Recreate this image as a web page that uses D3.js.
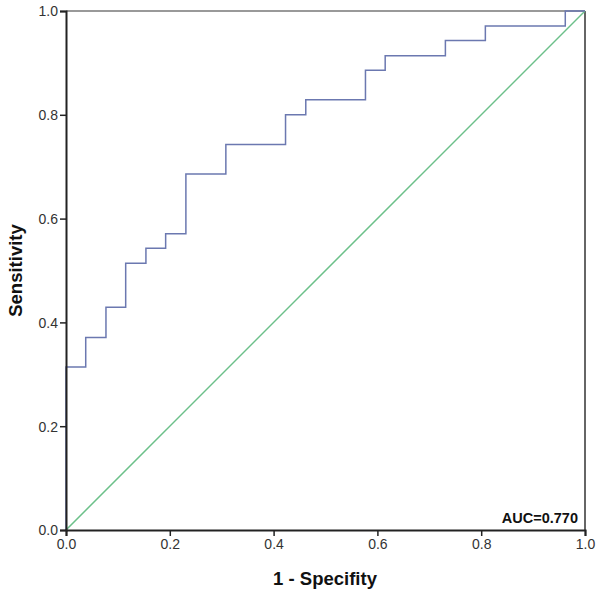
<!DOCTYPE html>
<html>
<head>
<meta charset="utf-8">
<script src="https://cdn.jsdelivr.net/npm/d3@7"></script>
<style>
html,body{margin:0;padding:0;background:#fff;}
svg{display:block;font-family:"Liberation Sans",Arial,sans-serif;}
</style>
</head>
<body>
<script>
// ROC step points (1 - specificity, sensitivity)
const fpr = [0, 0, 0.038, 0.038, 0.077, 0.077, 0.115, 0.115, 0.154, 0.154, 0.192, 0.192, 0.231, 0.231, 0.308, 0.308, 0.423, 0.423, 0.462, 0.462, 0.577, 0.577, 0.615, 0.615, 0.731, 0.731, 0.808, 0.808, 0.962, 0.962, 1.0];
const tpr = [0, 0.314, 0.314, 0.371, 0.371, 0.429, 0.429, 0.514, 0.514, 0.543, 0.543, 0.571, 0.571, 0.686, 0.686, 0.743, 0.743, 0.800, 0.800, 0.829, 0.829, 0.886, 0.886, 0.914, 0.914, 0.943, 0.943, 0.971, 0.971, 1.0, 1.0];
const refX = [0, 1];
const refY = [0, 1];
const tickValues = [0, 0.2, 0.4, 0.6, 0.8, 1.0];
const xTitle = "1 - Specifity";
const yTitle = "Sensitivity";
const aucLabel = "AUC=0.770";

const W = 600, H = 593;
const L = 66, R = 585, T = 11, B = 530;

const svg = d3.select("body").append("svg").attr("width", W).attr("height", H);

const x = d3.scaleLinear().domain([0, 1]).range([L, R]);
const y = d3.scaleLinear().domain([0, 1]).range([B, T]);

// frame top and right
svg.append("line").attr("x1", L).attr("x2", R).attr("y1", T).attr("y2", T)
  .attr("stroke", "#777").attr("stroke-width", 1.5);
svg.append("line").attr("x1", R).attr("x2", R).attr("y1", T).attr("y2", B)
  .attr("stroke", "#333").attr("stroke-width", 1.5);

// reference diagonal
svg.append("path")
  .datum(refX.map((v, i) => [v, refY[i]]))
  .attr("d", d3.line().x(d => x(d[0])).y(d => y(d[1])))
  .attr("fill", "none").attr("stroke", "#6cc08a").attr("stroke-width", 1.5);

// ROC curve
svg.append("path")
  .datum(fpr.map((v, i) => [v, tpr[i]]))
  .attr("d", d3.line().x(d => x(d[0])).y(d => y(d[1])))
  .attr("fill", "none").attr("stroke", "#6b78b0").attr("stroke-width", 1.5);

// axes
const fmt = d3.format(".1f");
const xAxis = svg.append("g").attr("transform", `translate(0,${B})`)
  .call(d3.axisBottom(x).tickValues(tickValues).tickFormat(fmt).tickSize(6).tickPadding(3));
const yAxis = svg.append("g").attr("transform", `translate(${L},0)`)
  .call(d3.axisLeft(y).tickValues(tickValues).tickFormat(fmt).tickSize(6).tickPadding(2));
[xAxis, yAxis].forEach(g => {
  g.select(".domain").attr("stroke", "#222").attr("stroke-width", 2);
  g.selectAll(".tick line").attr("stroke", "#222").attr("stroke-width", 1.5);
  g.selectAll(".tick text").attr("fill", "#333").style("font-size", "14px")
    .style("font-family", "'Liberation Sans',Arial,sans-serif");
});
yAxis.selectAll(".tick text").attr("dy", "0.35em");

// titles
svg.append("text").attr("x", 325).attr("y", 585)
  .attr("text-anchor", "middle").style("font-size", "18.5px").style("font-weight", "bold")
  .attr("fill", "#111").text(xTitle);
svg.append("text").attr("transform", `translate(22,${(T + B) / 2}) rotate(-90)`)
  .attr("text-anchor", "middle").style("font-size", "18.5px").style("font-weight", "bold")
  .attr("fill", "#111").text(yTitle);

// AUC label
svg.append("text").attr("x", R - 7).attr("y", B - 7)
  .attr("text-anchor", "end").style("font-size", "14.5px").style("font-weight", "bold")
  .attr("fill", "#111").text(aucLabel);
</script>
</body>
</html>
